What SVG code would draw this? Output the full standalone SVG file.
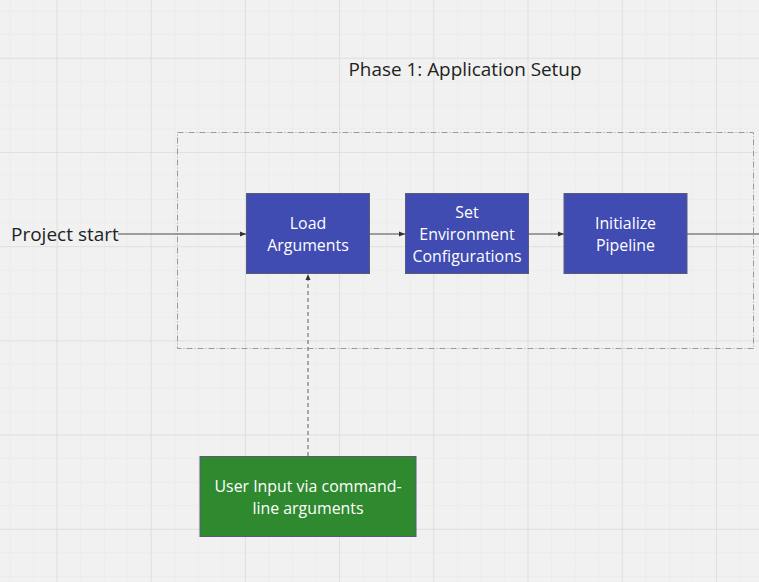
<svg xmlns="http://www.w3.org/2000/svg" width="759" height="582" viewBox="0 0 759 582">
<defs>
<style>
.bg{fill:#f1f1f1}
.node{stroke:#5a5a7a;stroke-width:1}
.blue{fill:#404cb2}
.green{fill:#2f8a2f}
.lbl{font-family:"Open Sans","Noto Sans",sans-serif;font-size:15.9px;fill:#ffffff;text-anchor:middle}
.plain{font-family:"Open Sans","Noto Sans",sans-serif;fill:#222222}
.conn{stroke:#808080;stroke-width:1.3;fill:none}
</style>
<pattern id="minor" x="-14" y="-13" width="23.55" height="23.55" patternUnits="userSpaceOnUse">
<path d="M0 0H23.55M0 0V23.55" stroke="#e8e8e8" stroke-width="1" fill="none"/>
</pattern>
<pattern id="major" x="56.5" y="57.8" width="94.2" height="94.2" patternUnits="userSpaceOnUse">
<path d="M0 0H94.2M0 0V94.2" stroke="#dcdcdc" stroke-width="1.5" fill="none"/>
</pattern>
<marker id="arr" markerWidth="8" markerHeight="8" refX="7" refY="4" orient="auto" markerUnits="userSpaceOnUse">
<path d="M1 1.5L7 4L1 6.5Z" fill="#333"/>
</marker>
</defs>
<rect class="bg" x="0" y="0" width="759" height="582"/>
<rect x="0" y="0" width="759" height="582" fill="url(#minor)"/>
<rect x="0" y="0" width="759" height="582" fill="url(#major)"/>

<g id="phase1">
<rect x="177.5" y="132.5" width="576" height="216" fill="none" stroke="#9a9a9a" stroke-width="1" stroke-dasharray="6 2 1 2"/>
<text class="plain" x="465" y="76" font-size="18.9" text-anchor="middle">Phase 1: Application Setup</text>
</g>

<g id="connectors">
<line class="conn" x1="118" y1="234" x2="246" y2="234" marker-end="url(#arr)"/>
<line class="conn" x1="370" y1="234" x2="405" y2="234" marker-end="url(#arr)"/>
<line class="conn" x1="528" y1="234" x2="564" y2="234" marker-end="url(#arr)"/>
<line class="conn" x1="687" y1="234" x2="759" y2="234"/>
<line class="conn" x1="308" y1="456" x2="308" y2="274" stroke-dasharray="4 3" marker-end="url(#arr)"/>
</g>

<g id="project-start">
<text class="plain" x="11" y="241" font-size="19">Project start</text>
</g>

<g id="load-arguments">
<rect class="node blue" x="246.5" y="193.5" width="123" height="80"/>
<text class="lbl" x="308" y="229">Load</text>
<text class="lbl" x="308" y="251">Arguments</text>
</g>

<g id="set-environment">
<rect class="node blue" x="405.5" y="193.5" width="123" height="80"/>
<text class="lbl" x="467" y="218">Set</text>
<text class="lbl" x="467" y="240">Environment</text>
<text class="lbl" x="467" y="262">Configurations</text>
</g>

<g id="initialize-pipeline">
<rect class="node blue" x="564" y="193.5" width="123" height="80"/>
<text class="lbl" x="625.5" y="229">Initialize</text>
<text class="lbl" x="625.5" y="251">Pipeline</text>
</g>

<g id="user-input">
<rect class="node green" x="200" y="456.5" width="216" height="80"/>
<text class="lbl" x="308" y="492">User Input via command-</text>
<text class="lbl" x="308" y="514">line arguments</text>
</g>
</svg>
